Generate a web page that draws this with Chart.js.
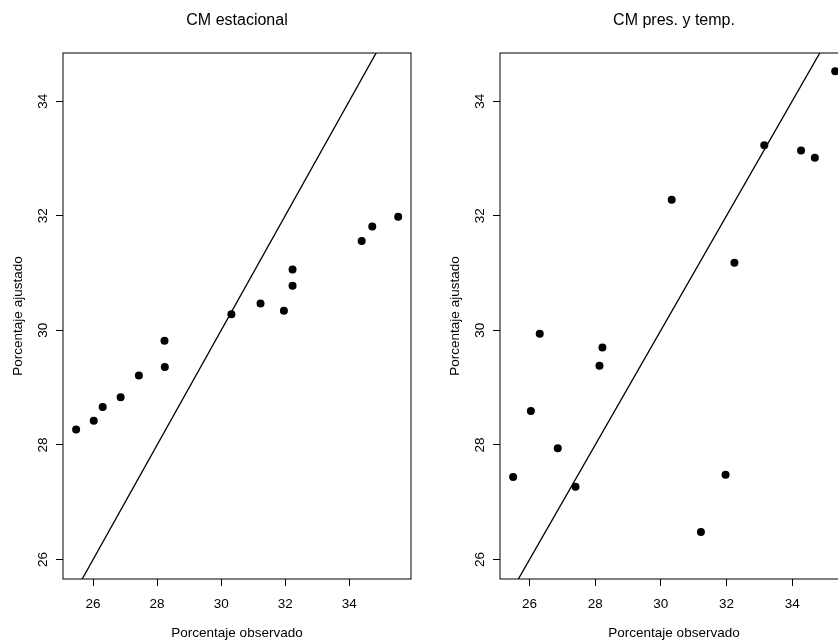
<!DOCTYPE html>
<html>
<head>
<meta charset="utf-8">
<script src="https://cdn.jsdelivr.net/npm/chart.js@4"></script>
<style>
  html, body { margin: 0; padding: 0; background: #fff; overflow: hidden; }
  #wrap { position: relative; width: 838px; height: 644px; overflow: hidden; }
  .panel { position: absolute; top: 0; width: 419px; height: 644px; }
  #panelA { left: 0; }
  #panelB { left: 437px; }
</style>
</head>
<body>
<div id="wrap">
  <div class="panel" id="panelA"><canvas id="chartA" width="419" height="644"></canvas></div>
  <div class="panel" id="panelB"><canvas id="chartB" width="419" height="644"></canvas></div>
</div>
<script>
/* ─── Data ─── */
const observedA = [25.47, 26.02, 26.30, 26.86, 27.43, 28.23, 28.24, 30.32, 31.23, 31.96, 32.23, 32.23, 34.39, 34.72, 35.53];
const fittedA = [28.27, 28.42, 28.66, 28.83, 29.21, 29.82, 29.36, 30.28, 30.47, 30.34, 31.06, 30.78, 31.56, 31.81, 31.98];

const observedB = [25.50, 26.04, 26.31, 26.86, 27.40, 28.22, 28.13, 30.33, 31.22, 31.97, 32.24, 33.15, 34.27, 34.69, 35.31];
const fittedB = [27.44, 28.59, 29.94, 27.94, 27.27, 29.70, 29.38, 32.28, 26.48, 27.48, 31.18, 33.23, 33.14, 33.01, 34.52];

const xLimA = [25.06, 35.93];
const xLimB = [25.1, 35.7];
const yLim = [25.66, 34.84];
const xTicks = [26, 28, 30, 32, 34];
const yTicks = [26, 28, 30, 32, 34];
const refLine = [25, 36]; // y = x

Chart.defaults.font.family = '"Liberation Sans", Arial, Helvetica, sans-serif';
Chart.defaults.color = "#000";

/* ─── Box around the plot area ─── */
const boxPlugin = {
  id: "box",
  afterDatasetsDraw(chart) {
    const { ctx, chartArea: a } = chart;
    ctx.save();
    ctx.strokeStyle = "#000";
    ctx.lineWidth = 1;
    ctx.strokeRect(a.left, a.top, a.right - a.left, a.bottom - a.top);
    ctx.restore();
  },
};

const tickGrid = {
  display: true,
  drawOnChartArea: false,
  drawTicks: true,
  tickLength: 7,
  color: "#000",
  lineWidth: 1,
};

function makeChart(id, titleText, obs, fit, xLim) {
  return new Chart(document.getElementById(id), {
    type: "scatter",
    data: {
      datasets: [
        {
          data: obs.map((v, i) => ({ x: v, y: fit[i] })),
          backgroundColor: "#000",
          borderWidth: 0,
          pointRadius: 4,
          pointHoverRadius: 4,
        },
        {
          data: refLine.map((v) => ({ x: v, y: v })),
          showLine: true,
          borderColor: "#000",
          borderWidth: 1.3,
          pointRadius: 0,
        },
      ],
    },
    options: {
      responsive: false,
      animation: false,
      layout: { padding: { top: 0, right: 8, bottom: 0, left: 0 } },
      plugins: {
        legend: { display: false },
        tooltip: { enabled: false },
        title: {
          display: true,
          fullSize: false,
          text: titleText,
          color: "#000",
          font: { size: 16, weight: "normal" },
          padding: { top: 10.5, bottom: 23.3 },
        },
      },
      scales: {
        x: {
          type: "linear",
          min: xLim[0],
          max: xLim[1],
          afterBuildTicks: (s) => {
            s.ticks = xTicks.map((v) => ({ value: v }));
          },
          afterFit: (s) => {
            s.height = 65;
          },
          grid: tickGrid,
          border: { display: false },
          ticks: { padding: 10, maxRotation: 0, font: { size: 13.5 } },
          title: {
            display: true,
            text: "Porcentaje observado",
            font: { size: 13.5 },
            padding: { top: 0, bottom: 3 },
          },
        },
        y: {
          type: "linear",
          min: yLim[0],
          max: yLim[1],
          afterBuildTicks: (s) => {
            s.ticks = yTicks.map((v) => ({ value: v }));
          },
          afterFit: (s) => {
            s.width = 63;
          },
          grid: tickGrid,
          border: { display: false },
          ticks: {
            padding: 5.5,
            minRotation: 90,
            maxRotation: 90,
            crossAlign: "center",
            font: { size: 13.5 },
          },
          title: {
            display: true,
            text: "Porcentaje ajustado",
            font: { size: 13.5 },
            padding: { top: 10, bottom: 0 },
          },
        },
      },
    },
    plugins: [boxPlugin],
  });
}

/* ─── Panels ─── */
makeChart("chartA", "CM estacional", observedA, fittedA, xLimA);
makeChart("chartB", "CM pres. y temp.", observedB, fittedB, xLimB);
</script>
</body>
</html>
